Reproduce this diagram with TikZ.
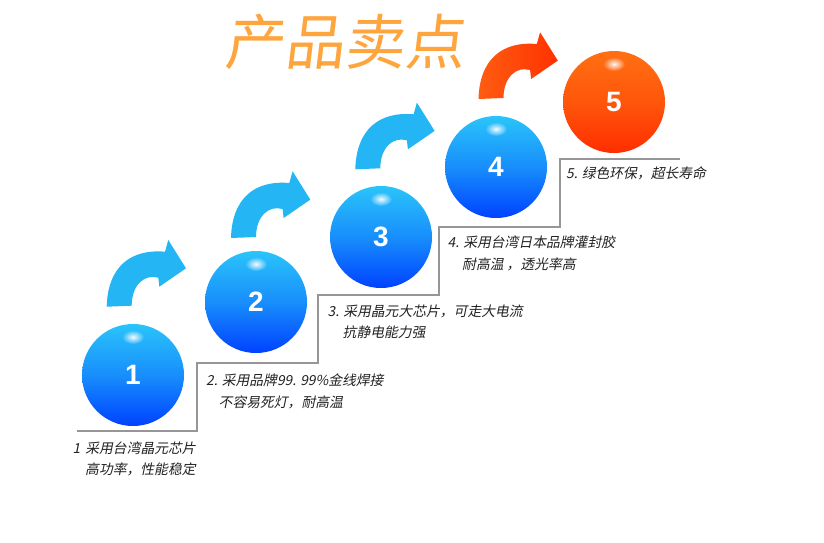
\documentclass[tikz,border=0pt]{standalone}
\usepackage{fontspec}
\newfontfamily\cjk[FakeSlant=0.2]{Noto Sans CJK SC}
\newfontfamily\titlefont[FakeSlant=0.12]{Noto Sans CJK SC}
\newfontfamily\numfont{Liberation Sans}
\usepackage{tikz}
\usetikzlibrary{fadings}

\tikzfading[name=glow, inner color=transparent!0, outer color=transparent!100]

\definecolor{titleorange}{RGB}{255,165,62}
\definecolor{stairgray}{RGB}{150,150,150}
\definecolor{textgray}{RGB}{34,34,34}
\definecolor{ballcyan}{RGB}{42,196,250}
\definecolor{ballmid}{RGB}{24,142,252}
\definecolor{ballblue}{RGB}{0,66,255}
\definecolor{ballorange}{RGB}{255,112,18}
\definecolor{ballred}{RGB}{255,46,0}
\definecolor{arrowblue}{RGB}{36,181,245}
\definecolor{arroworange}{RGB}{255,92,18}
\definecolor{arrowred}{RGB}{255,50,0}

\tikzset{
  ball/.style={circle, minimum size=102pt, inner sep=0pt, text=white,
    font=\numfont\bfseries\fontsize{28}{28}\selectfont},
  blueball/.style={ball, top color=ballcyan, bottom color=ballblue, middle color=ballmid},
  redball/.style={ball, top color=ballorange, bottom color=ballred, middle color=ballorange!60!ballred},
  shine/.style={white, path fading=glow, opacity=0.95},
  stair/.style={stairgray, line width=2.8pt},
  steptext/.style={anchor=west, inner sep=0pt, text=textgray,
    font=\cjk\fontsize{13.8}{14}\selectfont},
  curl/.pic={
    \path[pic actions] (0,0) .. controls (1,-40) and (24,-58) .. (58.3,-55)
      -- (61.6,-66.7) -- (79.3,-38.4) -- (52.6,-20) -- (51.6,-29)
      .. controls (38,-33) and (25,-22) .. (25,-1) -- cycle;
  }
}

\begin{document}
\begin{tikzpicture}[x=1pt, y=-1pt]
  \fill[white] (0,0) rectangle (824,542);
  \useasboundingbox (0,0) rectangle (824,542);

  \node[text=titleorange, font=\titlefont\fontsize{60}{60}\selectfont] (title) at (344,42) {产品卖点};

  \draw[stair] (77,431) -- (197,431) -- (197,363) -- (318,363) -- (318,295) -- (439,295)
    -- (439,227) -- (560,227) -- (560,159) -- (680,159);

  \pic[fill=arrowblue] (c1) at (106.7,306.7) {curl};
  \pic[fill=arrowblue] (c2) at (231,238) {curl};
  \pic[fill=arrowblue] (c3) at (355.3,169.3) {curl};
  \pic[left color=arroworange, right color=arrowred] (c4) at (478.5,99) {curl};

  \node[blueball] (b1) at (133,375) {1};
  \node[blueball] (b2) at (256,302) {2};
  \node[blueball] (b3) at (381,237) {3};
  \node[blueball] (b4) at (496,167) {4};
  \node[redball] (b5) at (614,102) {5};
  \fill[shine] ([yshift=38pt]b1.center) ellipse (11 and 7);
  \fill[shine] ([yshift=38pt]b2.center) ellipse (11 and 7);
  \fill[shine] ([yshift=38pt]b3.center) ellipse (11 and 7);
  \fill[shine] ([yshift=38pt]b4.center) ellipse (11 and 7);
  \fill[shine] ([yshift=38pt]b5.center) ellipse (11 and 7);

  \node[steptext] (t1a) at (72.5,448) {1\hspace{5pt}采用台湾晶元芯片};
  \node[steptext] (t1b) at (85,469) {高功率，性能稳定};
  \node[steptext] (t2a) at (206,380) {2. 采用品牌99. 99\%金线焊接};
  \node[steptext] (t2b) at (218.5,402) {不容易死灯，耐高温};
  \node[steptext] (t3a) at (327.5,311) {3. 采用晶元大芯片，可走大电流};
  \node[steptext] (t3b) at (342.5,332) {抗静电能力强};
  \node[steptext] (t4a) at (447.5,242) {4. 采用台湾日本品牌灌封胶};
  \node[steptext] (t4b) at (462,264) {耐高温 ，透光率高};
  \node[steptext] (t5) at (566,173) {5. 绿色环保，超长寿命};
\end{tikzpicture}
\end{document}
